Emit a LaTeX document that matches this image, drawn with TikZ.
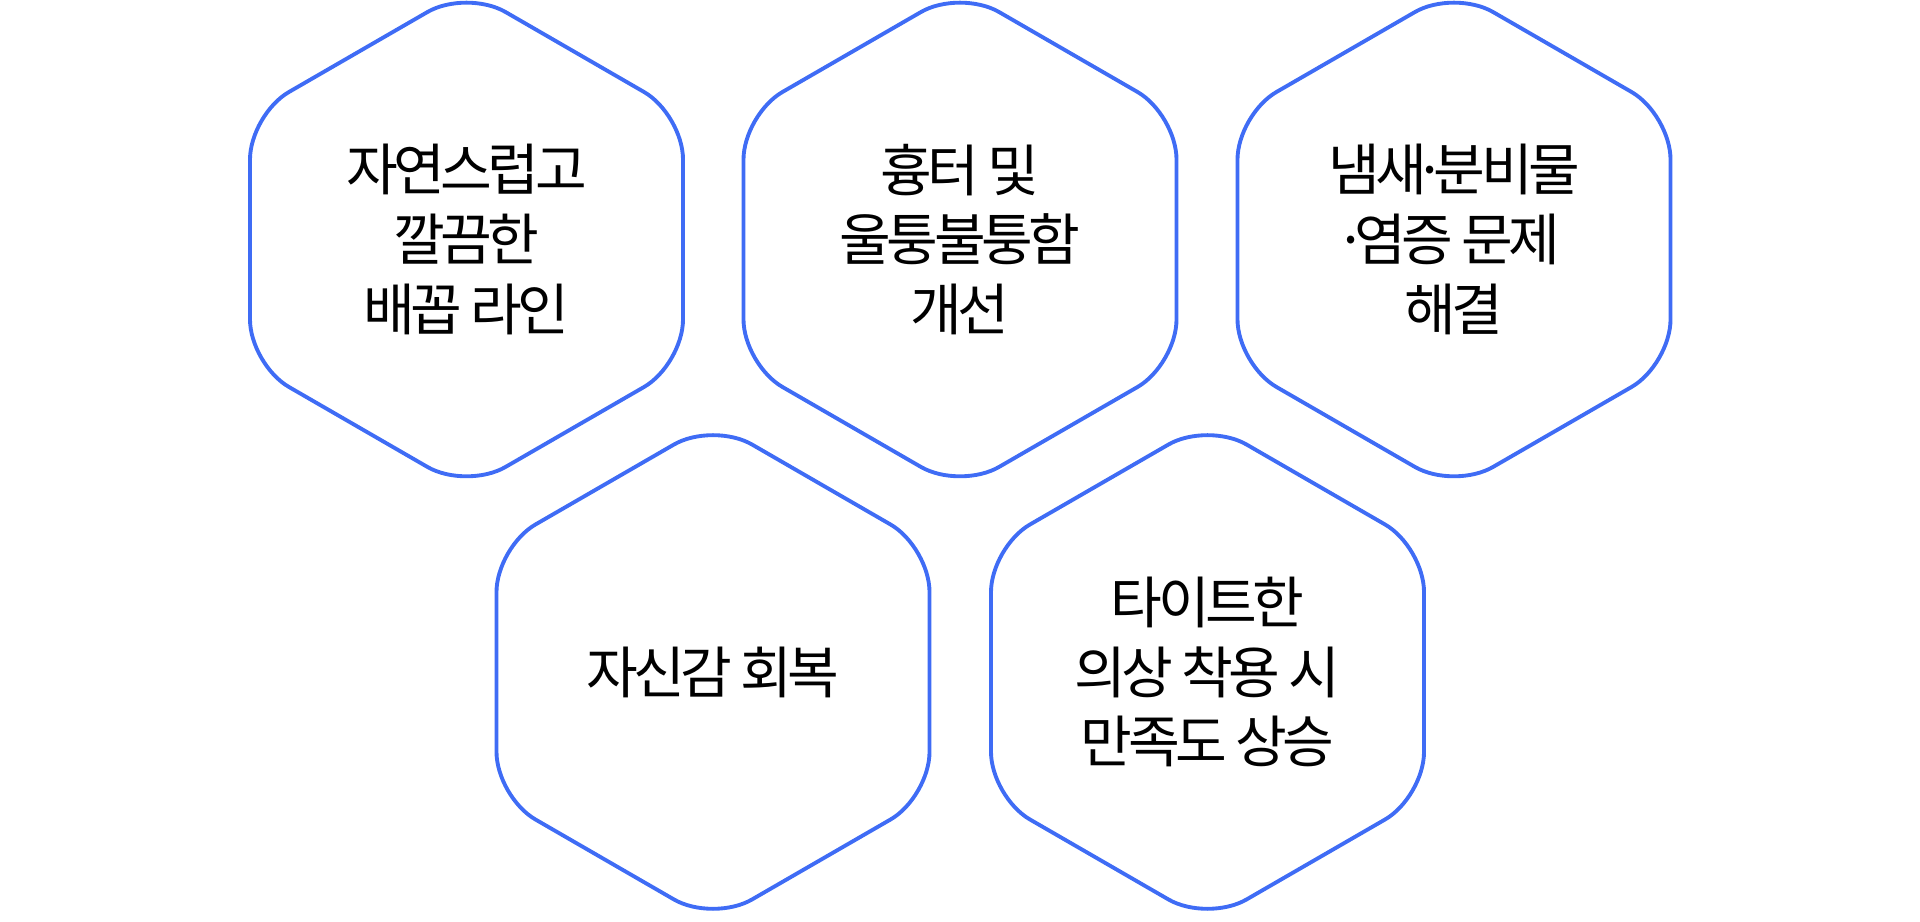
\documentclass[tikz,border=0pt]{standalone}
\usepackage{fontspec}
\setmainfont{Noto Sans CJK KR}[LetterSpace=-8]
\usepackage{tikz}
\usetikzlibrary{shapes.geometric,positioning}
\definecolor{hexblue}{RGB}{63,108,245}
\newcommand{\mdot}{\kern-.22em·\kern-.22em}
\tikzset{
  hexa/.style={
    shape = regular polygon,
    regular polygon sides = 6,
    shape border rotate = 30,
    minimum size = 5cm,
    inner sep = 0pt,
    draw = hexblue,
    line width = 1.1pt,
    rounded corners = 0.45cm,
    align = center,
    font = \fontsize{16pt}{19.8pt}\selectfont
  },
}

\begin{document}
\begin{tikzpicture}
    \useasboundingbox (0,0) rectangle (19.2,9.21);

    \node[hexa] (clean) at (4.665,6.815) {자연스럽고\\깔끔한\\배꼽 라인};
    \node[hexa] (smooth) at (9.60,6.815) {흉터 및\\울퉁불퉁함\\개선};
    \node[hexa] (odor) at (14.54,6.815) {냄새\mdot 분비물\\\mdot 염증 문제\\해결};

    \node[hexa] (confid) at (7.13,2.49) {자신감 회복};
    \node[hexa] (tight) at (12.075,2.49) {타이트한\\의상 착용 시\\만족도 상승};
\end{tikzpicture}
\end{document}
